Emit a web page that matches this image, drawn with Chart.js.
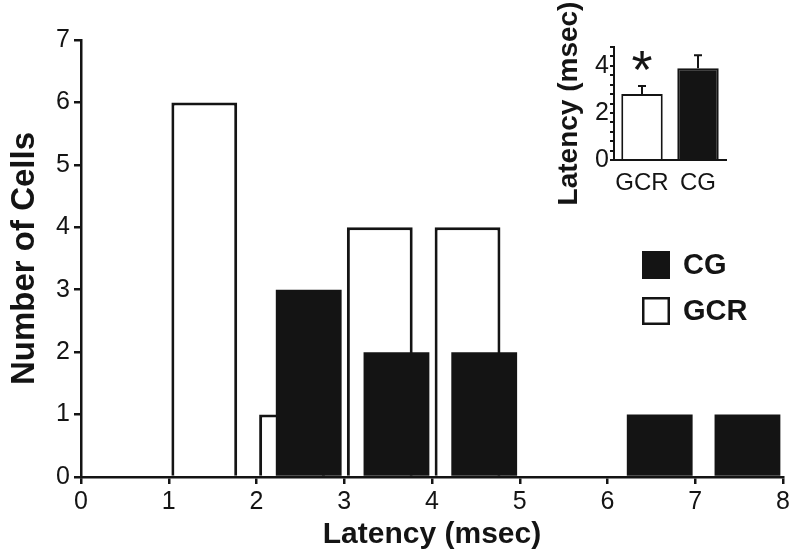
<!DOCTYPE html>
<html>
<head>
<meta charset="utf-8">
<script src="https://cdn.jsdelivr.net/npm/chart.js@4.4.0/dist/chart.umd.min.js"></script>
<style>
  html, body { margin: 0; padding: 0; background: #fff; }
  #wrap { position: relative; width: 800px; height: 559px; }
  #main { position: absolute; left: 0; top: 0; }
  #inset { position: absolute; left: 545px; top: 0; }
</style>
</head>
<body>
<div id="wrap">
  <canvas id="main" width="800" height="559"></canvas>
  <canvas id="inset" width="190" height="215"></canvas>
</div>
<script>
// histogram bins (lower edge, msec) and cell counts
const gcrBins = [1, 2, 3, 4];
const gcrCounts = [6, 1, 4, 4];
const cgBins = [2, 3, 4, 6, 7];
const cgCounts = [3, 2, 2, 1, 1];

// inset: mean latency +/- error
const insetGroups = ["GCR", "CG"];
const insetMeans = [2.8, 3.9];
const insetErrors = [0.34, 0.55];

const ink = "#141414";
const font = "'Liberation Sans', Arial, sans-serif";
Chart.defaults.font.family = font;
Chart.defaults.color = ink;

// bars sit inside each 1 msec bin, GCR to the left, CG shifted right
const gcrShift = 0.405;
const cgShift = 0.595;

const boxLegend = {
  id: "boxLegend",
  afterDraw(chart) {
    const ctx = chart.ctx;
    ctx.save();
    chart.data.datasets.forEach((ds, i) => {
      const x = 642, y = 251 + i * 46;
      ctx.fillStyle = ds.backgroundColor;
      ctx.fillRect(x, y, 28, 28);
      ctx.lineWidth = 2.5;
      ctx.strokeStyle = ink;
      ctx.strokeRect(x + 1.25, y + 1.25, 25.5, 25.5);
      ctx.fillStyle = ink;
      ctx.font = "bold 29px " + font;
      ctx.textBaseline = "middle";
      ctx.fillText(ds.label, x + 41, y + 15);
    });
    ctx.restore();
  }
};

new Chart(document.getElementById("main"), {
  type: "bar",
  data: {
    datasets: [
      {
        label: "CG",
        xAxisID: "x2",
        data: cgBins.map((b, i) => ({ x: b + cgShift, y: cgCounts[i] })),
        backgroundColor: ink,
        borderColor: ink,
        borderWidth: 0,
        barPercentage: 0.75,
        categoryPercentage: 1,
        grouped: false,
      },
      {
        label: "GCR",
        xAxisID: "x",
        data: gcrBins.map((b, i) => ({ x: b + gcrShift, y: gcrCounts[i] })),
        backgroundColor: "#ffffff",
        borderColor: ink,
        borderWidth: 3,
        barPercentage: 0.75,
        categoryPercentage: 1,
        grouped: false,
      },
    ],
  },
  options: {
    responsive: false,
    devicePixelRatio: 1,
    animation: false,
    layout: { padding: { top: 40, right: 17 } },
    plugins: { legend: { display: false }, tooltip: { enabled: false } },
    scales: {
      x: {
        type: "linear",
        min: 0,
        max: 8,
        offset: false,
        ticks: { stepSize: 1, font: { size: 25 }, padding: 3, maxRotation: 0 },
        grid: { offset: false, drawOnChartArea: false, tickLength: 7, lineWidth: 2.5, color: ink },
        border: { color: ink, width: 2.5 },
        title: { display: true, text: "Latency (msec)", font: { size: 30, weight: "bold" }, padding: { top: 0, bottom: 6 } },
        afterFit: (s) => { s.height = 82; },
      },
      x2: { type: "linear", min: 0, max: 8, offset: false, display: false, grid: { offset: false } },
      y: {
        min: 0,
        max: 7,
        ticks: { stepSize: 1, font: { size: 25 }, padding: 4 },
        grid: { drawOnChartArea: false, tickLength: 7, lineWidth: 2.5, color: ink },
        border: { color: ink, width: 2.5 },
        title: { display: true, text: "Number of Cells", font: { size: 33, weight: "bold" }, padding: { top: 5, bottom: 0 } },
        afterFit: (s) => { s.width = 81; },
      },
    },
  },
  plugins: [boxLegend],
});

const errorBars = {
  id: "errorBars",
  afterDatasetsDraw(chart) {
    const ctx = chart.ctx;
    const y = chart.scales.y;
    const meta = chart.getDatasetMeta(0);
    ctx.save();
    ctx.strokeStyle = ink;
    ctx.lineWidth = 2;
    meta.data.forEach((bar, i) => {
      const top = y.getPixelForValue(insetMeans[i] + insetErrors[i]);
      ctx.beginPath();
      ctx.moveTo(bar.x, bar.y);
      ctx.lineTo(bar.x, top);
      ctx.moveTo(bar.x - 4, top);
      ctx.lineTo(bar.x + 4, top);
      ctx.stroke();
    });
    // significance star over GCR
    const g = meta.data[0];
    ctx.fillStyle = ink;
    ctx.font = "54px " + font;
    ctx.textAlign = "center";
    ctx.textBaseline = "alphabetic";
    ctx.fillText("*", g.x, y.getPixelForValue(insetMeans[0] + insetErrors[0]) + 2);
    ctx.restore();
  }
};

new Chart(document.getElementById("inset"), {
  type: "bar",
  data: {
    labels: insetGroups,
    datasets: [{
      data: insetMeans,
      backgroundColor: ["#ffffff", ink],
      borderColor: ink,
      borderWidth: 2,
      barPercentage: 0.74,
      categoryPercentage: 1,
    }],
  },
  options: {
    responsive: false,
    devicePixelRatio: 1,
    animation: false,
    layout: { padding: { top: 47, right: 9 } },
    plugins: { legend: { display: false }, tooltip: { enabled: false } },
    scales: {
      x: {
        ticks: { font: { size: 24 }, padding: 1, autoSkip: false, maxRotation: 0, minRotation: 0 },
        grid: { display: false },
        border: { color: ink, width: 2 },
        afterFit: (s) => { s.height = 55; },
      },
      y: {
        min: 0,
        max: 4.8,
        ticks: {
          stepSize: 0.4,
          autoSkip: false,
          font: { size: 25 },
          padding: 1,
          callback: (v) => (Math.abs(v / 2 - Math.round(v / 2)) < 1e-6 ? Math.round(v) : ""),
        },
        grid: { drawOnChartArea: false, tickLength: 4, lineWidth: 2, color: ink },
        border: { color: ink, width: 2 },
        title: { display: true, text: "Latency (msec)", font: { size: 28, weight: "bold" }, padding: { top: 7, bottom: 0 } },
        afterFit: (s) => { s.width = 69; },
      },
    },
  },
  plugins: [errorBars],
});
</script>
</body>
</html>
